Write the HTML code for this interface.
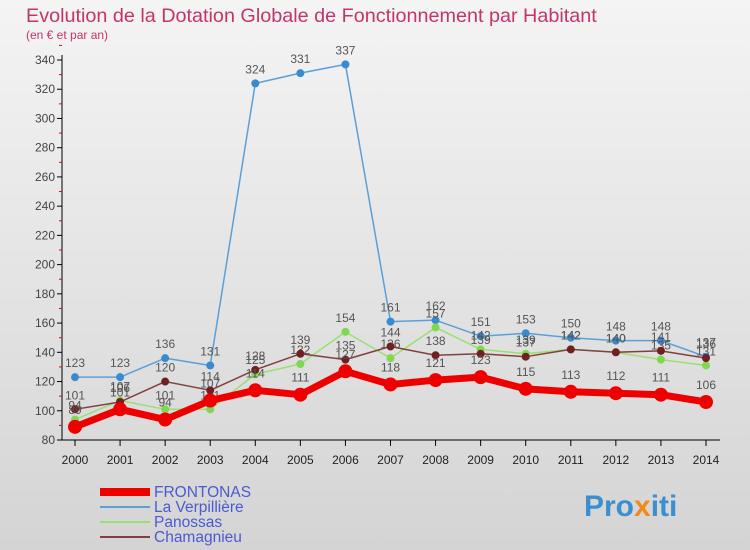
<!DOCTYPE html>
<html><head><meta charset="utf-8"><style>
body{margin:0;width:750px;height:550px;overflow:hidden;font-family:"Liberation Sans",sans-serif;}
#bg{position:absolute;left:0;top:0;width:750px;height:550px;background:linear-gradient(#f4f4f4,#d4d4d4);}
</style></head><body>
<div id="bg"></div>
<svg id="c" width="750" height="550" style="position:absolute;left:0;top:0" font-family="Liberation Sans, sans-serif">
<text x="26" y="22" font-size="19.8" fill="#c4346c">Evolution de la Dotation Globale de Fonctionnement par Habitant</text>
<text x="26" y="39" font-size="12" fill="#c4346c">(en € et par an)</text>
<g id="axes"></g><g id="series"></g><g id="legend"></g>
<text x="584" y="516" font-size="30" font-weight="bold" fill="#3a8fd0">Pro<tspan fill="#f08a1c">x</tspan>iti</text>
</svg>
<script>
const years=[2000,2001,2002,2003,2004,2005,2006,2007,2008,2009,2010,2011,2012,2013,2014];
const yTicks=[80,100,120,140,160,180,200,220,240,260,280,300,320,340];
const frontonas=[89,101,94,107,114,111,127,118,121,123,115,113,112,111,106];
const verpilliere=[123,123,136,131,324,331,337,161,162,151,153,150,148,148,137];
const panossas=[94,107,101,101,125,132,154,136,157,142,139,142,140,135,131];
const chamagnieu=[101,106,120,114,128,139,135,144,138,139,137,142,140,141,136];
const names=["FRONTONAS","La Verpillière","Panossas","Chamagnieu"];
const NS="http://www.w3.org/2000/svg";
const X=i=>75+i*(706-75)/14;
const Y=v=>440-(v-80)*380/260;
function mk(t,a,p){const e=document.createElementNS(NS,t);for(const k in a)e.setAttribute(k,a[k]);p.appendChild(e);return e;}
const ax=document.getElementById('axes');
const yl=mk('line',{x1:62,y1:55,x2:62,y2:440,stroke:'#000'},ax);


const xl=mk('line',{x1:62,y1:440,x2:720,y2:440,stroke:'#000'},ax);


yTicks.forEach(v=>{
 mk('line',{x1:57,y1:Y(v),x2:62,y2:Y(v),stroke:'#000'},ax);
 mk('line',{x1:59,y1:Y(v+10),x2:62,y2:Y(v+10),stroke:'#e00'},ax);
 const t=mk('text',{x:55,y:Y(v)+4,'text-anchor':'end','font-size':12,fill:'#444'},ax);t.textContent=v;
 
 
});
years.forEach((y,i)=>{
 mk('line',{x1:X(i),y1:440,x2:X(i),y2:446,stroke:'#000'},ax);
 const t=mk('text',{x:X(i),y:464,'text-anchor':'middle','font-size':12,fill:'#222'},ax);t.textContent=y;
 
 
});
const sg=document.getElementById('series');
function series(d,col,w,r,dot,name){
 const g=mk('g',{},sg);
 
 
 mk('polyline',{points:d.map((v,i)=>X(i)+','+Y(v)).join(' '),fill:'none',stroke:col,'stroke-width':w,'stroke-linejoin':'round'},g);
 d.forEach((v,i)=>{
  const c=mk('circle',{cx:X(i),cy:Y(v),r:r,fill:dot},g);
  
  
  const t=mk('text',{x:X(i),y:Y(v)-(r+6),'text-anchor':'middle','font-size':12,fill:'#555'},g);t.textContent=v;
 });
}
series(verpilliere,'#5aa0d8',1.5,4,'#3a8ad0','series-la-verpilliere');
series(panossas,'#99e070',1.5,4,'#7ed850','series-panossas');
series(chamagnieu,'#804040',1.5,4,'#702020','series-chamagnieu');
series(frontonas,'#ee0000',7,7,'#ee0000','series-frontonas');
const lg=document.getElementById('legend');
const cols=['#ee0000','#5aa0d8','#99e070','#804040'],ws=[8,2,2,2];
names.forEach((n,i)=>{
 const y=492+i*15;
 const g=mk('g',{},lg);
 
 
 mk('line',{x1:100,y1:y,x2:150,y2:y,stroke:cols[i],'stroke-width':ws[i]},g);
 const t=mk('text',{x:154,y:y+5,'font-size':15.5,fill:'#4a5ad0'},g);t.textContent=n;
});
</script>
</body></html>
